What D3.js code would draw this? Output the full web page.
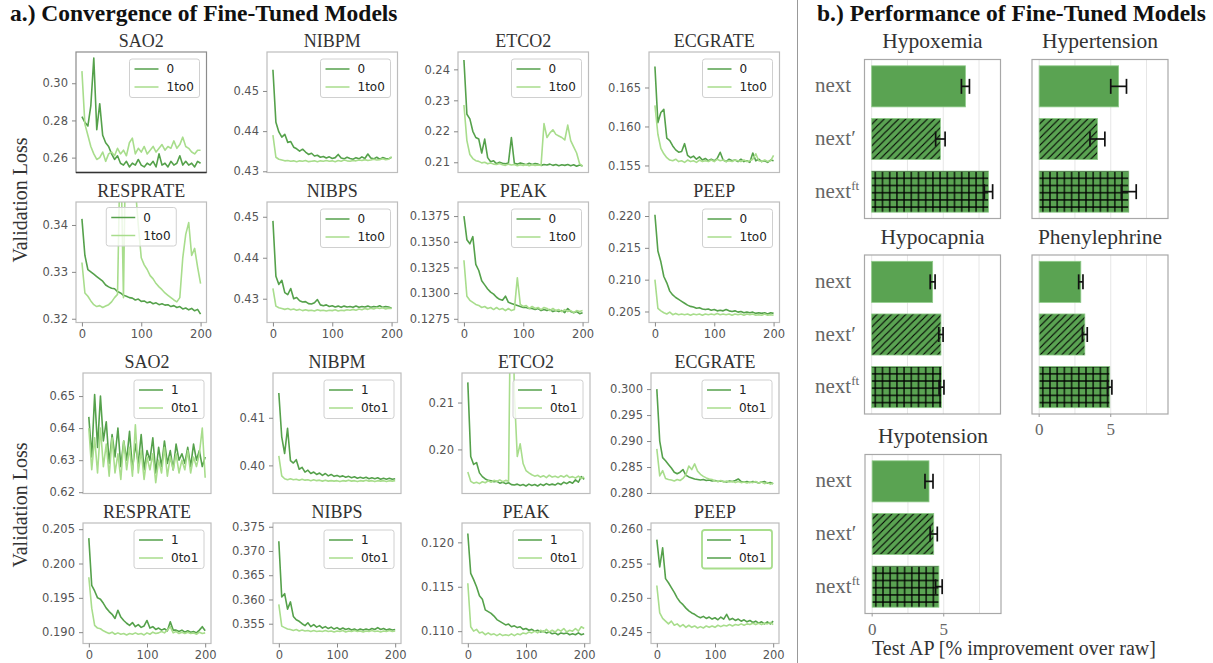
<!DOCTYPE html>
<html>
<head>
<meta charset="utf-8">
<script src="https://cdn.jsdelivr.net/npm/d3@7"></script>
<style>
  body { margin: 0; background: #fff; }
  svg { display: block; }
</style>
</head>
<body>
<svg id="fig" width="1213" height="663"></svg>
<script>
// ---------- training curves: validation loss per epoch ----------
const epochs = [0,5,10,15,20,25,30,35,40,45,50,55,60,65,70,75,80,85,90,95,100,105,110,115,120,125,130,135,140,145,150,155,160,165,170,175,180,185,190,195,200];

// fine-tuned on 0 vs transferred 1 -> 0
const sao2Loss0 = [0.282,0.279,0.277,0.288,0.3135,0.275,0.289,0.272,0.268,0.266,
  0.262,0.259,0.261,0.257,0.256,0.258,0.255,0.257,0.256,0.259,
  0.256,0.255,0.257,0.256,0.258,0.255,0.262,0.256,0.257,0.255,
  0.258,0.256,0.257,0.261,0.256,0.258,0.256,0.257,0.255,0.258,0.257];
const sao2Loss1to0 = [0.3065,0.278,0.272,0.266,0.262,0.259,0.260,0.263,0.258,0.262,
  0.263,0.261,0.265,0.262,0.264,0.261,0.268,0.2705,0.262,0.265,
  0.263,0.266,0.262,0.264,0.266,0.263,0.265,0.267,0.264,0.266,
  0.265,0.269,0.265,0.267,0.271,0.266,0.265,0.263,0.262,0.264,0.264];
const nibpmLoss0 = [0.4553,0.4422,0.4398,0.4385,0.4392,0.4372,0.4374,0.4360,0.4356,0.4350,
  0.4355,0.4348,0.4342,0.4345,0.4338,0.4340,0.4335,0.4337,0.4333,0.4336,
  0.4332,0.4334,0.4342,0.4333,0.4331,0.4335,0.4332,0.4330,0.4334,0.4331,
  0.4336,0.4332,0.4343,0.4333,0.4331,0.4335,0.4330,0.4334,0.4332,0.4331,0.4335];
const nibpmLoss1to0 = [0.4390,0.4335,0.4330,0.4328,0.4326,0.4327,0.4325,0.4326,0.4324,0.4326,
  0.4325,0.4327,0.4324,0.4325,0.4326,0.4324,0.4326,0.4325,0.4327,0.4325,
  0.4326,0.4324,0.4327,0.4325,0.4328,0.4326,0.4325,0.4327,0.4326,0.4328,
  0.4327,0.4329,0.4327,0.4328,0.4330,0.4328,0.4329,0.4331,0.4329,0.4330,0.4336];
const etco2Loss0 = [0.2430,0.2255,0.2240,0.2200,0.2180,0.2175,0.2130,0.2175,0.2115,0.2102,
  0.2105,0.2095,0.2100,0.2097,0.2095,0.2098,0.2180,0.2097,0.2094,0.2098,
  0.2095,0.2092,0.2097,0.2093,0.2096,0.2094,0.2090,0.2093,0.2091,0.2094,
  0.2090,0.2093,0.2089,0.2092,0.2090,0.2093,0.2089,0.2092,0.2087,0.2091,0.2088];
const etco2Loss1to0 = [0.2285,0.2170,0.2125,0.2112,0.2105,0.2103,0.2098,0.2100,0.2095,0.2098,
  0.2094,0.2093,0.2096,0.2092,0.2090,0.2094,0.2091,0.2093,0.2089,0.2092,
  0.2090,0.2093,0.2089,0.2092,0.2090,0.2091,0.2090,0.2225,0.2180,0.2195,
  0.2205,0.2190,0.2185,0.2180,0.2172,0.2220,0.2170,0.2150,0.2130,0.2095,0.2088];
const ecgrateLoss0 = [0.1677,0.1605,0.1618,0.1622,0.1585,0.1582,0.1575,0.1570,0.1567,0.1568,
  0.1578,0.1563,0.1560,0.1562,0.1558,0.1561,0.1557,0.1559,0.1556,0.1558,
  0.1556,0.1559,0.1567,0.1557,0.1555,0.1558,0.1556,0.1557,0.1555,0.1558,
  0.1555,0.1556,0.1554,0.1566,0.1556,0.1558,0.1555,0.1556,0.1554,0.1557,0.1556];
const ecgrateLoss1to0 = [0.1627,0.1590,0.1572,0.1565,0.1560,0.1557,0.1556,0.1558,0.1555,0.1556,
  0.1554,0.1557,0.1555,0.1556,0.1554,0.1557,0.1555,0.1556,0.1555,0.1557,
  0.1555,0.1558,0.1556,0.1557,0.1555,0.1556,0.1555,0.1557,0.1556,0.1555,
  0.1557,0.1555,0.1556,0.1558,0.1565,0.1556,0.1555,0.1557,0.1555,0.1556,0.1563];
const resprateLoss0 = [0.3413,0.3335,0.3305,0.3300,0.3295,0.3290,0.3285,0.3280,0.3272,0.3268,
  0.3265,0.3264,0.3258,0.3255,0.3250,0.3248,0.3245,0.3244,0.3240,0.3242,
  0.3237,0.3238,0.3234,0.3236,0.3232,0.3234,0.3230,0.3232,0.3229,0.3230,
  0.3226,0.3228,0.3224,0.3226,0.3221,0.3223,0.3219,0.3222,0.3217,0.3220,0.3210];
const resprateLoss1to0 = [0.3320,0.3255,0.3248,0.3238,0.3230,0.3226,0.3228,0.3224,0.3227,0.3230,
  0.3236,0.3245,0.3252,0.3600,0.3245,0.3700,0.3650,0.3570,0.3480,0.3400,
  0.3330,0.3315,0.3305,0.3292,0.3285,0.3275,0.3268,0.3262,0.3255,0.3250,
  0.3245,0.3240,0.3236,0.3245,0.3330,0.3380,0.3405,0.3335,0.3350,0.3310,0.3275];
const nibpsLoss0 = [0.4490,0.4355,0.4335,0.4345,0.4315,0.4310,0.4325,0.4300,0.4303,0.4295,
  0.4292,0.4293,0.4288,0.4287,0.4290,0.4298,0.4285,0.4283,0.4285,0.4281,
  0.4283,0.4280,0.4282,0.4279,0.4282,0.4280,0.4281,0.4279,0.4282,0.4279,
  0.4281,0.4280,0.4282,0.4279,0.4281,0.4280,0.4283,0.4279,0.4281,0.4280,0.4277];
const nibpsLoss1to0 = [0.4325,0.4282,0.4278,0.4276,0.4274,0.4276,0.4273,0.4275,0.4272,0.4274,
  0.4271,0.4273,0.4271,0.4272,0.4270,0.4273,0.4271,0.4272,0.4270,0.4272,
  0.4271,0.4273,0.4270,0.4272,0.4271,0.4273,0.4272,0.4274,0.4272,0.4275,
  0.4273,0.4276,0.4274,0.4277,0.4275,0.4278,0.4276,0.4278,0.4275,0.4277,0.4276];
const peakLoss0 = [0.1375,0.1352,0.1348,0.1355,0.1328,0.1322,0.1312,0.1308,0.1304,0.1301,
  0.1299,0.1296,0.1294,0.1293,0.1297,0.1291,0.1290,0.1289,0.1288,0.1287,
  0.1286,0.1286,0.1285,0.1285,0.1284,0.1285,0.1283,0.1284,0.1283,0.1284,
  0.1282,0.1283,0.1282,0.1283,0.1281,0.1285,0.1282,0.1281,0.1282,0.1280,0.1281];
const peakLoss1to0 = [0.1332,0.1297,0.1293,0.1291,0.1289,0.1288,0.1286,0.1287,0.1285,0.1286,
  0.1284,0.1286,0.1284,0.1285,0.1283,0.1285,0.1283,0.1284,0.1315,0.1289,
  0.1287,0.1288,0.1285,0.1287,0.1285,0.1286,0.1284,0.1286,0.1285,0.1283,
  0.1285,0.1283,0.1284,0.1282,0.1284,0.1282,0.1283,0.1281,0.1283,0.1282,0.1283];
const peepLoss0 = [0.2202,0.2145,0.2128,0.2105,0.2095,0.2082,0.2076,0.2072,0.2069,0.2066,
  0.2063,0.2060,0.2058,0.2057,0.2055,0.2056,0.2054,0.2053,0.2054,0.2052,
  0.2053,0.2051,0.2052,0.2051,0.2053,0.2051,0.2050,0.2051,0.2049,0.2050,
  0.2048,0.2049,0.2048,0.2049,0.2047,0.2048,0.2047,0.2048,0.2046,0.2048,0.2047];
const peepLoss1to0 = [0.2100,0.2055,0.2051,0.2048,0.2046,0.2049,0.2045,0.2047,0.2045,0.2046,
  0.2045,0.2046,0.2044,0.2046,0.2045,0.2046,0.2044,0.2046,0.2045,0.2046,
  0.2045,0.2047,0.2045,0.2046,0.2045,0.2046,0.2044,0.2046,0.2045,0.2046,
  0.2044,0.2046,0.2045,0.2046,0.2044,0.2045,0.2044,0.2046,0.2044,0.2045,0.2044];

// fine-tuned on 1 vs transferred 0 -> 1
const sao2Loss1 = [0.6435,0.631,0.6505,0.634,0.650,0.636,0.642,0.629,0.638,0.631,
  0.640,0.628,0.636,0.630,0.639,0.627,0.635,0.629,0.638,0.627,
  0.633,0.630,0.637,0.626,0.634,0.628,0.636,0.629,0.633,0.627,
  0.635,0.630,0.632,0.629,0.634,0.628,0.635,0.630,0.633,0.628,0.631];
const sao2Loss0to1 = [0.640,0.627,0.637,0.626,0.640,0.628,0.635,0.625,0.637,0.626,
  0.632,0.624,0.636,0.627,0.634,0.625,0.641,0.626,0.633,0.624,
  0.631,0.627,0.632,0.623,0.630,0.626,0.634,0.625,0.631,0.627,
  0.632,0.626,0.630,0.627,0.633,0.626,0.631,0.628,0.632,0.640,0.6245];
const nibpmLoss1 = [0.4152,0.4060,0.4025,0.4078,0.4010,0.4005,0.4012,0.3992,0.3996,0.3986,
  0.3990,0.3983,0.3986,0.3981,0.3984,0.3979,0.3983,0.3978,0.3981,0.3977,
  0.3979,0.3976,0.3978,0.3975,0.3977,0.3974,0.3976,0.3973,0.3975,0.3973,
  0.3975,0.3972,0.3974,0.3972,0.3974,0.3971,0.3973,0.3971,0.3973,0.3971,0.3972];
const nibpmLoss0to1 = [0.4020,0.3978,0.3972,0.3970,0.3972,0.3970,0.3971,0.3969,0.3971,0.3969,
  0.3970,0.3968,0.3970,0.3968,0.3969,0.3967,0.3969,0.3967,0.3968,0.3967,
  0.3968,0.3966,0.3968,0.3967,0.3969,0.3967,0.3968,0.3966,0.3968,0.3967,
  0.3969,0.3967,0.3968,0.3966,0.3968,0.3967,0.3968,0.3966,0.3968,0.3967,0.3968];
const etco2Loss1 = [0.2143,0.1985,0.1968,0.1972,0.1950,0.1942,0.1937,0.1934,0.1933,0.1931,
  0.1932,0.1928,0.1930,0.1927,0.1929,0.1925,0.1924,0.1926,0.1923,0.1925,
  0.1922,0.1926,0.1923,0.1925,0.1922,0.1926,0.1923,0.1927,0.1924,0.1926,
  0.1924,0.1928,0.1925,0.1930,0.1927,0.1931,0.1928,0.1935,0.1930,0.1942,0.1936];
const etco2Loss0to1 = [0.1952,0.1932,0.1928,0.1930,0.1927,0.1931,0.1929,0.1933,0.1930,0.1934,
  0.1932,0.1935,0.1931,0.1934,0.1932,0.2500,0.2120,0.1985,0.2012,0.1970,
  0.1955,0.1950,0.1946,0.1943,0.1945,0.1941,0.1944,0.1940,0.1945,0.1941,
  0.1943,0.1940,0.1944,0.1941,0.1945,0.1940,0.1942,0.1939,0.1943,0.1938,0.1941];
const ecgrateLoss1 = [0.3000,0.2900,0.2868,0.2862,0.2855,0.2848,0.2840,0.2837,0.2840,0.2845,
  0.2834,0.2831,0.2829,0.2827,0.2826,0.2825,0.2826,0.2824,0.2825,0.2823,
  0.2824,0.2822,0.2823,0.2822,0.2821,0.2823,0.2822,0.2824,0.2827,0.2822,
  0.2821,0.2822,0.2820,0.2822,0.2821,0.2819,0.2821,0.2822,0.2819,0.2820,0.2818];
const ecgrateLoss0to1 = [0.2885,0.2833,0.2843,0.2828,0.2826,0.2825,0.2823,0.2826,0.2824,0.2828,
  0.2835,0.2852,0.2845,0.2856,0.2842,0.2836,0.2832,0.2829,0.2827,0.2826,
  0.2823,0.2822,0.2824,0.2821,0.2823,0.2821,0.2822,0.2820,0.2822,0.2820,
  0.2821,0.2819,0.2821,0.2820,0.2822,0.2819,0.2821,0.2818,0.2820,0.2817,0.2819];
const resprateLoss1 = [0.2037,0.1968,0.1960,0.1950,0.1948,0.1942,0.1935,0.1930,0.1926,0.1920,
  0.1932,0.1922,0.1917,0.1913,0.1910,0.1914,0.1908,0.1911,0.1907,0.1909,
  0.1917,0.1906,0.1908,0.1904,0.1906,0.1903,0.1905,0.1902,0.1915,0.1903,
  0.1903,0.1901,0.1903,0.1900,0.1902,0.1900,0.1901,0.1899,0.1903,0.1908,0.1902];
const resprateLoss0to1 = [0.1980,0.1935,0.1910,0.1906,0.1905,0.1902,0.1900,0.1898,0.1900,0.1897,
  0.1899,0.1897,0.1898,0.1896,0.1898,0.1897,0.1899,0.1897,0.1898,0.1896,
  0.1899,0.1897,0.1900,0.1898,0.1899,0.1901,0.1899,0.1903,0.1908,0.1899,
  0.1901,0.1898,0.1900,0.1898,0.1900,0.1898,0.1899,0.1897,0.1900,0.1898,0.1899];
const nibpsLoss1 = [0.3720,0.3605,0.3612,0.3580,0.3595,0.3565,0.3558,0.3555,0.3550,0.3546,
  0.3552,0.3544,0.3548,0.3543,0.3546,0.3541,0.3544,0.3540,0.3543,0.3539,
  0.3542,0.3538,0.3541,0.3538,0.3540,0.3537,0.3539,0.3536,0.3539,0.3537,
  0.3539,0.3537,0.3540,0.3538,0.3542,0.3538,0.3540,0.3537,0.3539,0.3537,0.3538];
const nibpsLoss0to1 = [0.3590,0.3545,0.3542,0.3539,0.3538,0.3536,0.3538,0.3535,0.3537,0.3535,
  0.3536,0.3534,0.3536,0.3534,0.3535,0.3534,0.3536,0.3534,0.3535,0.3533,
  0.3535,0.3534,0.3536,0.3533,0.3535,0.3534,0.3536,0.3534,0.3535,0.3533,
  0.3535,0.3534,0.3536,0.3534,0.3535,0.3533,0.3535,0.3534,0.3536,0.3534,0.3535];
const peakLoss1 = [0.1210,0.1165,0.1158,0.1150,0.1140,0.1136,0.1124,0.1122,0.1120,0.1117,
  0.1113,0.1111,0.1109,0.1107,0.1108,0.1105,0.1106,0.1104,0.1105,0.1102,
  0.1103,0.1101,0.1102,0.1100,0.1101,0.1099,0.1100,0.1098,0.1099,0.1097,
  0.1098,0.1096,0.1098,0.1097,0.1098,0.1096,0.1097,0.1096,0.1098,0.1096,0.1097];
const peakLoss0to1 = [0.1154,0.1105,0.1100,0.1102,0.1098,0.1099,0.1096,0.1098,0.1096,0.1097,
  0.1095,0.1097,0.1095,0.1096,0.1095,0.1097,0.1095,0.1097,0.1096,0.1098,
  0.1097,0.1099,0.1098,0.1100,0.1098,0.1101,0.1099,0.1102,0.1099,0.1101,
  0.1099,0.1102,0.1100,0.1103,0.1099,0.1101,0.1100,0.1103,0.1100,0.1105,0.1103];
const peepLoss1 = [0.2585,0.2545,0.2573,0.2528,0.2522,0.2515,0.2508,0.2500,0.2494,0.2490,
  0.2485,0.2481,0.2478,0.2476,0.2473,0.2471,0.2473,0.2470,0.2472,0.2469,
  0.2471,0.2468,0.2472,0.2469,0.2476,0.2468,0.2470,0.2467,0.2469,0.2466,
  0.2468,0.2465,0.2467,0.2464,0.2466,0.2463,0.2465,0.2462,0.2465,0.2462,0.2466];
const peepLoss0to1 = [0.2518,0.2478,0.2470,0.2466,0.2462,0.2466,0.2460,0.2462,0.2458,0.2461,
  0.2457,0.2460,0.2457,0.2459,0.2456,0.2458,0.2456,0.2459,0.2457,0.2459,
  0.2457,0.2460,0.2458,0.2460,0.2459,0.2461,0.2459,0.2461,0.2460,0.2462,
  0.2460,0.2462,0.2461,0.2463,0.2461,0.2463,0.2461,0.2463,0.2462,0.2464,0.2461];

// y tick values of each curve panel
const ticksSao2A = [0.26, 0.28, 0.30];
const ticksNibpmA = [0.43, 0.44, 0.45];
const ticksEtco2A = [0.21, 0.22, 0.23, 0.24];
const ticksEcgrateA = [0.155, 0.160, 0.165];
const ticksRespA = [0.32, 0.33, 0.34];
const ticksNibpsA = [0.43, 0.44, 0.45];
const ticksPeakA = [0.1275, 0.1300, 0.1325, 0.1350, 0.1375];
const ticksPeepA = [0.205, 0.210, 0.215, 0.220];
const ticksSao2B = [0.62, 0.63, 0.64, 0.65];
const ticksNibpmB = [0.40, 0.41];
const ticksEtco2B = [0.20, 0.21];
const ticksEcgrateB = [0.280, 0.285, 0.290, 0.295, 0.300];
const ticksRespB = [0.190, 0.195, 0.200, 0.205];
const ticksNibpsB = [0.355, 0.360, 0.365, 0.370, 0.375];
const ticksPeakB = [0.110, 0.115, 0.120];
const ticksPeepB = [0.245, 0.250, 0.255, 0.260];
const epochTicks = [0, 100, 200];

// ---------- test AP improvement over raw (%) ----------
const tasks = ["Hypoxemia", "Hypertension", "Hypocapnia", "Phenylephrine", "Hypotension"];
const models = ["next", "nextPrime", "nextFt"];
const apNext      = [6.55, 5.55, 4.26, 2.91, 3.97];
const apNextPrime = [4.80, 4.07, 4.84, 3.19, 4.30];
const apNextFt    = [8.16, 6.26, 4.88, 4.93, 4.66];
const errNext      = [0.28, 0.55, 0.17, 0.15, 0.28];
const errNextPrime = [0.33, 0.52, 0.15, 0.17, 0.25];
const errNextFt    = [0.29, 0.52, 0.17, 0.15, 0.23];
const apTicks = [0, 5];
const apGrid = [0, 2.5, 5, 7.5];

// ---------- drawing ----------
const svg = d3.select("#fig");
const DARK = "#55a14b", LIGHT = "#a8dd8c", BAR = "#5aa352";
const SERIF = "'Liberation Serif', 'DejaVu Serif', serif";
const SANS = "'DejaVu Sans', 'Liberation Sans', sans-serif";

const defs = svg.append("defs");
defs.append("pattern").attr("id", "hatchDiag").attr("patternUnits", "userSpaceOnUse")
  .attr("width", 7.2).attr("height", 7.2)
  .append("path").attr("d", "M-1.8,1.8 L1.8,-1.8 M0,7.2 L7.2,0 M5.4,9 L9,5.4")
  .attr("stroke", "#000").attr("stroke-width", 1.1);
const grid = defs.append("pattern").attr("id", "hatchGrid").attr("patternUnits", "userSpaceOnUse")
  .attr("width", 7.2).attr("height", 7.2);
grid.append("path").attr("d", "M3.6,0 V7.2 M0,3.6 H7.2").attr("stroke", "#000").attr("stroke-width", 1.3);

// figure headings
svg.append("text").attr("x", 10).attr("y", 21).text("a.) Convergence of Fine-Tuned Models")
  .attr("font-family", SERIF).attr("font-weight", "bold").attr("font-size", 23.5).attr("fill", "#111");
svg.append("text").attr("x", 817).attr("y", 21).text("b.) Performance of Fine-Tuned Models")
  .attr("font-family", SERIF).attr("font-weight", "bold").attr("font-size", 23.5).attr("fill", "#111");
svg.append("line").attr("x1", 797.5).attr("x2", 797.5).attr("y1", 0).attr("y2", 663)
  .attr("stroke", "#999").attr("stroke-width", 1);

[200, 505].forEach(cy => {
  svg.append("text").attr("transform", `translate(27,${cy}) rotate(-90)`)
    .attr("text-anchor", "middle").text("Validation Loss")
    .attr("font-family", SERIF).attr("font-size", 20).attr("fill", "#333");
});

// curve panels
const curvePanels = [
  { title: "SAO2", dark: sao2Loss0, light: sao2Loss1to0, names: ["0", "1to0"], domain: [0.252, 0.3168], ticks: ticksSao2A, fmt: ".2f", frame: "#8c8c8c", bottomFrame: "#333" },
  { title: "NIBPM", dark: nibpmLoss0, light: nibpmLoss1to0, names: ["0", "1to0"], domain: [0.4297, 0.4597], ticks: ticksNibpmA, fmt: ".2f" },
  { title: "ETCO2", dark: etco2Loss0, light: etco2Loss1to0, names: ["0", "1to0"], domain: [0.2067, 0.2456], ticks: ticksEtco2A, fmt: ".2f" },
  { title: "ECGRATE", dark: ecgrateLoss0, light: ecgrateLoss1to0, names: ["0", "1to0"], domain: [0.1541, 0.16955], ticks: ticksEcgrateA, fmt: ".3f" },
  { title: "RESPRATE", dark: resprateLoss0, light: resprateLoss1to0, names: ["0", "1to0"], domain: [0.3192, 0.3449], ticks: ticksRespA, fmt: ".2f", legendAt: "center" },
  { title: "NIBPS", dark: nibpsLoss0, light: nibpsLoss1to0, names: ["0", "1to0"], domain: [0.4242, 0.4536], ticks: ticksNibpsA, fmt: ".2f" },
  { title: "PEAK", dark: peakLoss0, light: peakLoss1to0, names: ["0", "1to0"], domain: [0.12714, 0.13887], ticks: ticksPeakA, fmt: ".4f" },
  { title: "PEEP", dark: peepLoss0, light: peepLoss1to0, names: ["0", "1to0"], domain: [0.20327, 0.2222], ticks: ticksPeepA, fmt: ".3f" },
  { title: "SAO2", dark: sao2Loss1, light: sao2Loss0to1, names: ["1", "0to1"], domain: [0.6196, 0.6572], ticks: ticksSao2B, fmt: ".2f" },
  { title: "NIBPM", dark: nibpmLoss1, light: nibpmLoss0to1, names: ["1", "0to1"], domain: [0.3941, 0.4194], ticks: ticksNibpmB, fmt: ".2f" },
  { title: "ETCO2", dark: etco2Loss1, light: etco2Loss0to1, names: ["1", "0to1"], domain: [0.1906, 0.2163], ticks: ticksEtco2B, fmt: ".2f" },
  { title: "ECGRATE", dark: ecgrateLoss1, light: ecgrateLoss0to1, names: ["1", "0to1"], domain: [0.2799, 0.3031], ticks: ticksEcgrateB, fmt: ".3f" },
  { title: "RESPRATE", dark: resprateLoss1, light: resprateLoss0to1, names: ["1", "0to1"], domain: [0.18835, 0.2059], ticks: ticksRespB, fmt: ".3f" },
  { title: "NIBPS", dark: nibpsLoss1, light: nibpsLoss0to1, names: ["1", "0to1"], domain: [0.35092, 0.37577], ticks: ticksNibpsB, fmt: ".3f" },
  { title: "PEAK", dark: peakLoss1, light: peakLoss0to1, names: ["1", "0to1"], domain: [0.10861, 0.12218], ticks: ticksPeakB, fmt: ".3f" },
  { title: "PEEP", dark: peepLoss1, light: peepLoss0to1, names: ["1", "0to1"], domain: [0.24334, 0.26092], ticks: ticksPeepB, fmt: ".3f", legendFrame: LIGHT, legendBothDark: true }
];

const rowTop = [52, 202, 373, 523];
const colLeftUpper = [76, 267, 458, 649];
const colLeftLower = [83, 273, 462, 651];
const panelH = 120.5;

curvePanels.forEach((p, i) => {
  const r = Math.floor(i / 4), c = i % 4;
  const x0 = r < 2 ? colLeftUpper[c] : colLeftLower[c];
  const w = r < 2 ? 130.5 : 128;
  const g = svg.append("g").attr("transform", `translate(${x0},${rowTop[r]})`);
  const x = d3.scaleLinear().domain([-10, 210]).range([0, w]);
  const y = d3.scaleLinear().domain(p.domain).range([panelH, 0]);

  g.append("clipPath").attr("id", "clipCurve" + i)
    .append("rect").attr("width", w).attr("height", panelH);
  const plot = g.append("g").attr("clip-path", `url(#clipCurve${i})`);
  const line = d3.line().x((d, j) => x(epochs[j])).y(d => y(d));
  plot.append("path").datum(p.dark).attr("d", line).attr("fill", "none")
    .attr("stroke", DARK).attr("stroke-width", 1.6).attr("stroke-linejoin", "round");
  plot.append("path").datum(p.light).attr("d", line).attr("fill", "none")
    .attr("stroke", LIGHT).attr("stroke-width", 1.6).attr("stroke-linejoin", "round");

  // frame
  g.append("rect").attr("width", w).attr("height", panelH).attr("fill", "none")
    .attr("stroke", p.frame || "#bdbdbd").attr("stroke-width", 1.2);
  if (p.bottomFrame) {
    g.append("line").attr("x1", 0).attr("x2", w).attr("y1", panelH).attr("y2", panelH)
      .attr("stroke", p.bottomFrame).attr("stroke-width", 1.4);
  }

  // y axis
  const ya = g.append("g").call(d3.axisLeft(y).tickValues(p.ticks)
    .tickFormat(d3.format(p.fmt)).tickSize(4).tickPadding(4));
  ya.select(".domain").remove();
  ya.selectAll("line").attr("stroke", "#888");
  ya.selectAll("text").attr("font-family", SANS).attr("font-size", 11.5).attr("fill", "#555");

  // x axis on the second row of each block
  if (r === 1 || r === 3) {
    const xa = g.append("g").attr("transform", `translate(0,${panelH})`)
      .call(d3.axisBottom(x).tickValues(epochTicks).tickFormat(d3.format("d")).tickSize(4).tickPadding(3));
    xa.select(".domain").remove();
    xa.selectAll("line").attr("stroke", "#888");
    xa.selectAll("text").attr("font-family", SANS).attr("font-size", 11.5).attr("fill", "#555");
  }

  // title
  g.append("text").attr("x", w / 2).attr("y", -5).attr("text-anchor", "middle").text(p.title)
    .attr("font-family", SERIF).attr("font-size", 18).attr("fill", "#333");

  // legend
  const lw = 70, lh = 38.5;
  const lx = p.legendAt === "center" ? (w - lw) / 2 : w - 7 - lw;
  const ly = p.legendAt === "center" ? 5.5 : 7;
  const lg = g.append("g").attr("transform", `translate(${lx},${ly})`);
  lg.append("rect").attr("width", lw).attr("height", lh).attr("rx", 2.5)
    .attr("fill", "#fff").attr("fill-opacity", 0.8)
    .attr("stroke", p.legendFrame || "#d0d0d0").attr("stroke-width", p.legendFrame ? 1.8 : 1);
  p.names.forEach((n, k) => {
    const ry = 10 + k * 18;
    const col = (k === 0 || p.legendBothDark) ? DARK : LIGHT;
    lg.append("line").attr("x1", 5).attr("x2", 29).attr("y1", ry).attr("y2", ry)
      .attr("stroke", col).attr("stroke-width", 1.5);
    lg.append("text").attr("x", 37).attr("y", ry).attr("dy", "0.36em").text(n)
      .attr("font-family", SANS).attr("font-size", 12).attr("fill", "#222");
  });
});

// bar panels
const barLeft = [864.5, 1032, 864.5, 1032, 865];
const barTop = [59.5, 59.5, 255, 255, 454.5];
const bw = 136, bh = 159;
const apValues = [apNext, apNextPrime, apNextFt];
const apErrors = [errNext, errNextPrime, errNextFt];
const hatches = [null, "url(#hatchDiag)", "url(#hatchGrid)"];

tasks.forEach((task, i) => {
  const g = svg.append("g").attr("transform", `translate(${barLeft[i]},${barTop[i]})`);
  const x = d3.scaleLinear().domain([-0.5, 9]).range([0, bw]);
  const y = d3.scaleBand().domain(models).range([0, bh]).paddingInner(0.22).paddingOuter(0.12);

  apGrid.forEach(v => {
    g.append("line").attr("x1", x(v)).attr("x2", x(v)).attr("y1", 0).attr("y2", bh)
      .attr("stroke", "#e6e6e6").attr("stroke-width", 1);
  });

  models.forEach((m, j) => {
    const v = apValues[j][i], e = apErrors[j][i];
    const bar = g.append("g");
    bar.append("rect").attr("x", x(0)).attr("y", y(m)).attr("width", x(v) - x(0))
      .attr("height", y.bandwidth()).attr("fill", BAR);
    if (hatches[j]) {
      bar.append("rect").attr("x", x(0)).attr("y", y(m)).attr("width", x(v) - x(0))
        .attr("height", y.bandwidth()).attr("fill", hatches[j]);
    }
    bar.append("rect").attr("x", x(0)).attr("y", y(m)).attr("width", x(v) - x(0))
      .attr("height", y.bandwidth()).attr("fill", "none").attr("stroke", "#8fcb89").attr("stroke-width", 0.8);
    const cy = y(m) + y.bandwidth() / 2;
    const eb = g.append("g").attr("stroke", "#111").attr("stroke-width", 1.7);
    eb.append("line").attr("x1", x(v - e)).attr("x2", x(v + e)).attr("y1", cy).attr("y2", cy);
    eb.append("line").attr("x1", x(v - e)).attr("x2", x(v - e)).attr("y1", cy - 7.5).attr("y2", cy + 7.5);
    eb.append("line").attr("x1", x(v + e)).attr("x2", x(v + e)).attr("y1", cy - 7.5).attr("y2", cy + 7.5);
  });

  g.append("rect").attr("width", bw).attr("height", bh).attr("fill", "none")
    .attr("stroke", "#a8a8a8").attr("stroke-width", 1.2);

  g.append("text").attr("x", bw / 2).attr("y", -11.5).attr("text-anchor", "middle").text(task)
    .attr("font-family", SERIF).attr("font-size", 21.5).attr("fill", "#333");

  // model labels on the left column
  if (i % 2 === 0) {
    models.forEach(m => {
      const t = g.append("text").attr("x", -49.5).attr("y", y(m) + y.bandwidth() / 2 + 6)
        .attr("font-family", SERIF).attr("font-size", 21).attr("fill", "#666");
      if (m === "next") t.text("next");
      else if (m === "nextPrime") t.text("next′");
      else {
        t.append("tspan").text("next");
        t.append("tspan").attr("dy", -8).attr("font-size", 13).text("ft");
      }
    });
  }

  // AP ticks on the lowest panel of each column
  if (i === 3 || i === 4) {
    apTicks.forEach(v => {
      g.append("line").attr("x1", x(v)).attr("x2", x(v)).attr("y1", bh).attr("y2", bh + 3)
        .attr("stroke", "#999");
      g.append("text").attr("x", x(v)).attr("y", bh + 21).attr("text-anchor", "middle").text(v)
        .attr("font-family", SERIF).attr("font-size", 17).attr("fill", "#666");
    });
  }
});

svg.append("text").attr("x", 1014).attr("y", 655).attr("text-anchor", "middle")
  .text("Test AP [% improvement over raw]")
  .attr("font-family", SERIF).attr("font-size", 20).attr("fill", "#333");
</script>
</body>
</html>
